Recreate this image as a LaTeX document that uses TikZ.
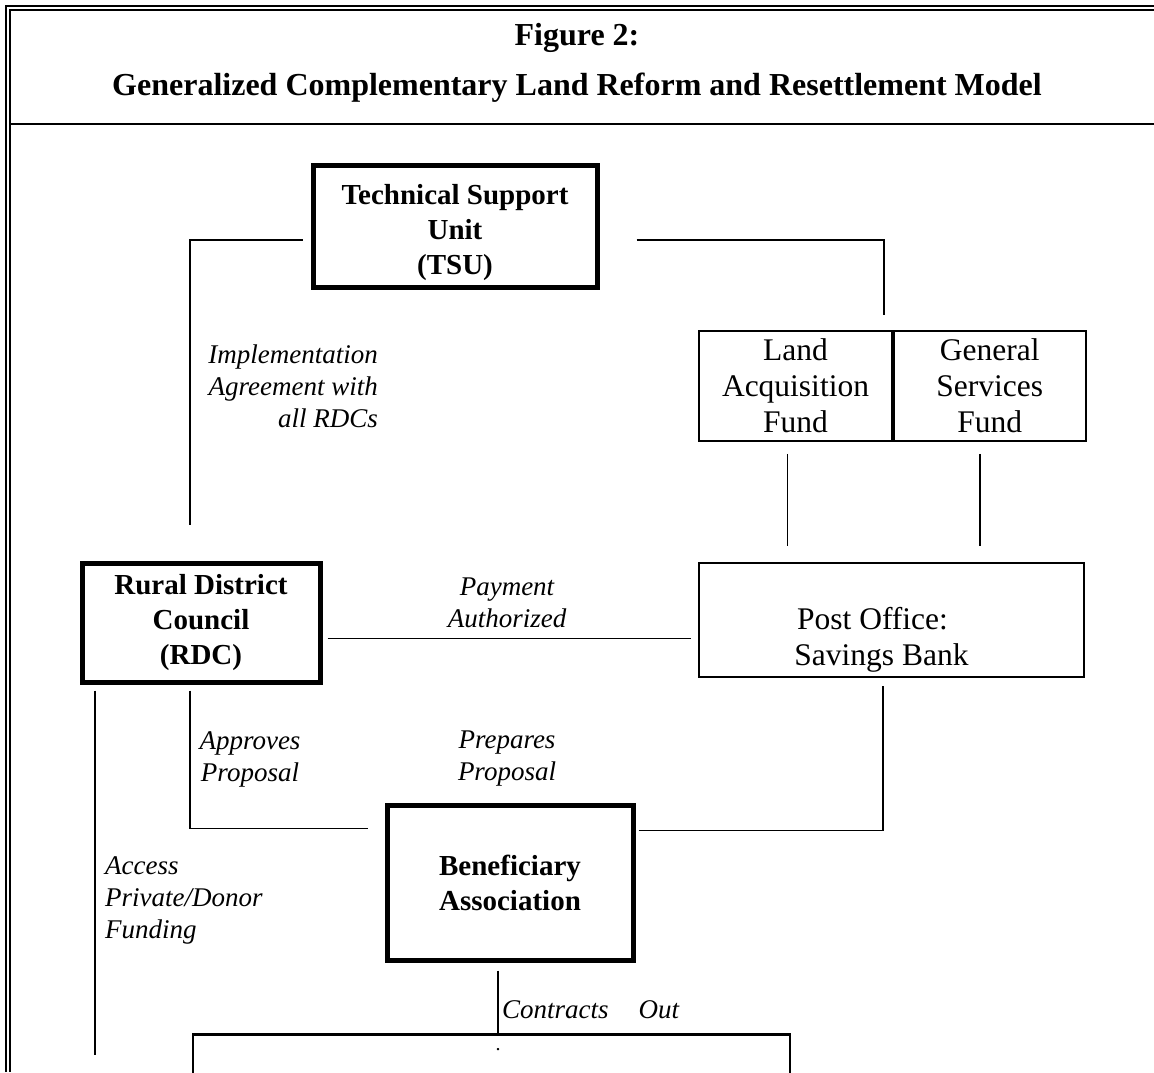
\documentclass[tikz,border=0pt]{standalone}
\usepackage{fontspec}
\setmainfont{Liberation Serif}
\usetikzlibrary{positioning}

\begin{document}
\begin{tikzpicture}[x=1pt, y=-1pt,
  bigbox/.style={draw, line width=5pt, inner sep=0pt, align=center,
    font=\bfseries\fontsize{29}{35}\selectfont},
  thinbox/.style={draw, line width=1.8pt, inner sep=0pt, align=center,
    font=\fontsize{31.5}{36}\selectfont},
  link/.style={line width=1.6pt},
  note/.style={inner sep=0pt, font=\itshape\fontsize{27}{32}\selectfont}]
%\draw [help lines, step=50pt](0,0) grid (1154,1072);
\useasboundingbox (0,0) rectangle (1154,1072);

% frame and title
\draw [line width=2pt] (6,1072) -- (6,6) -- (1154,6);
\draw [line width=2pt] (10,1072) -- (10,10) -- (1154,10);
\draw [line width=2.5pt] (10,124) -- (1154,124);
\node (fig) at (577,38) {\bfseries\fontsize{32}{38}\selectfont Figure 2:};
\node (title) at (577,88) {\bfseries\fontsize{32}{38}\selectfont Generalized Complementary Land Reform and Resettlement Model};

% boxes
\node [bigbox, minimum width=284pt, minimum height=122pt] (tsu) at (455,226) {\rule{0pt}{34pt}Technical Support\\Unit\\(TSU)};
\node [bigbox, minimum width=238pt, minimum height=119pt] (rdc) at (201,622.5) {Rural District\\Council\\(RDC)};
\node [bigbox, minimum width=246pt, minimum height=155pt] (ben) at (510,882.5) {Beneficiary\\Association};
\node [thinbox, minimum width=193pt, minimum height=110pt] (land) at (795.5,386) {Land\\Acquisition\\Fund};
\node [thinbox, minimum width=192pt, minimum height=110pt, right=0pt of land] (gen) {General\\Services\\Fund};
\node [thinbox, minimum width=385pt, minimum height=114pt] (post) at (891.5,620) {\strut\\Post Office:\kern38pt\\Savings Bank\kern20pt};
\node [draw, line width=2.5pt, inner sep=0pt, minimum width=597pt, minimum height=120pt, anchor=north] (work) at (491.5,1033) {};
\node [inner sep=0pt, font=\fontsize{20}{20}\selectfont] (dot) at (498,1050) {.};

% connectors
\draw [link] ([xshift=-8pt,yshift=-14pt]tsu.west) -| ([xshift=-11pt,yshift=36pt]rdc.north);
\draw [link] ([xshift=37pt,yshift=-14pt]tsu.east) -| ([xshift=-9pt,yshift=15pt]land.north east);
\draw [link] ([xshift=-8pt,yshift=-12pt]land.south) -- ([xshift=-8pt,yshift=16pt]land.south |- post.north);
\draw [link] ([xshift=-10pt,yshift=-12pt]gen.south) -- ([xshift=-10pt,yshift=16pt]gen.south |- post.north);
\draw [link] ([xshift=5pt,yshift=-16pt]rdc.east) -- ([xshift=-7pt,yshift=-16pt]rdc.east -| post.west);
\draw [link] ([xshift=-11pt,yshift=-6pt]rdc.south) |- ([xshift=-17pt,yshift=54pt]ben.west);
\draw [link] ([xshift=3pt,yshift=52pt]ben.east) -| ([xshift=-8.5pt,yshift=-8pt]post.south);
\draw [link] ([xshift=-106pt,yshift=-6pt]rdc.south) -- ++(0,364);
\draw [link] ([xshift=-12pt,yshift=-8pt]ben.south) -- (work.north -| 498,0);

% labels
\node [note, align=right, anchor=east] (impl) at (378,386) {Implementation\\Agreement with\\all RDCs};
\node [note, align=center] (pay) at (507,603) {Payment\\Authorized};
\node [note, align=center] (appr) at (250,759) {Approves\\Proposal};
\node [note, align=center] (prep) at (507,759) {Prepares\\Proposal};
\node [note, align=left, anchor=west] (acc) at (105,900) {Access\\Private/Donor\\Funding};
\node [note, anchor=west] (contr) at (502,1010) {Contracts\hspace{30pt}Out};
\end{tikzpicture}
\end{document}
